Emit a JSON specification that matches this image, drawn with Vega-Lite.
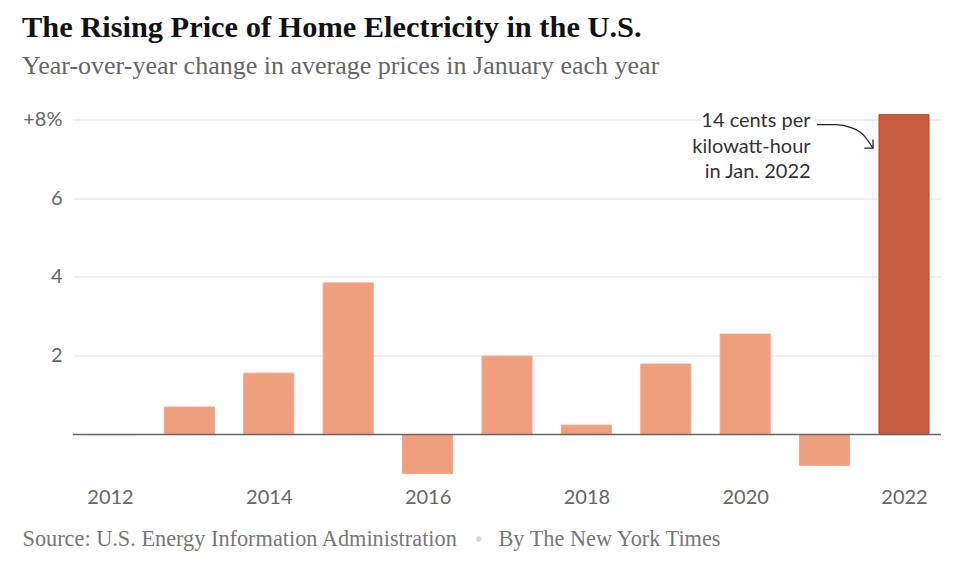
{
  "$schema": "https://vega.github.io/schema/vega-lite/v6.json",
  "width": 868,
  "height": 362.5,
  "autosize": {"type": "none"},
  "padding": {"left": 73, "top": 111.5, "right": 19, "bottom": 102},
  "background": "white",
  "title": {
    "text": "The Rising Price of Home Electricity in the U.S.",
    "subtitle": "Year-over-year change in average prices in January each year",
    "anchor": "start",
    "frame": "group",
    "dx": -51,
    "offset": 30,
    "font": "Liberation Serif",
    "fontSize": 30.4,
    "fontWeight": "bold",
    "color": "#121212",
    "subtitleFont": "Liberation Serif",
    "subtitleFontSize": 26,
    "subtitleColor": "#666666",
    "subtitlePadding": 10
  },
  "datasets": {
    "bars": [
      {"year": 2012, "value": 0},
      {"year": 2013, "value": 0.70},
      {"year": 2014, "value": 1.56},
      {"year": 2015, "value": 3.85},
      {"year": 2016, "value": -0.99},
      {"year": 2017, "value": 1.99},
      {"year": 2018, "value": 0.24},
      {"year": 2019, "value": 1.79},
      {"year": 2020, "value": 2.55},
      {"year": 2021, "value": -0.78},
      {"year": 2022, "value": 8.12}
    ],
    "zero": [
      {"value": 0}
    ],
    "note": [
      {"year": 2021, "value": 7.80, "text": "14 cents per\nkilowatt-hour\nin Jan. 2022"}
    ],
    "arrow": [
      {"year": 2020.904, "value": 7.868},
      {"year": 2021.144, "value": 7.868},
      {"year": 2021.332, "value": 7.792},
      {"year": 2021.484, "value": 7.614},
      {"year": 2021.610, "value": 7.272}
    ],
    "arrowhead": [
      {"year": 2021.610, "value": 7.272}
    ]
  },
  "config": {
    "view": {"stroke": null},
    "scale": {"continuousPadding": 0},
    "axis": {
      "domain": false,
      "ticks": false,
      "labelFont": "Lato",
      "labelFontSize": 20,
      "labelColor": "#666666",
      "titleFont": "Liberation Serif",
      "titleFontSize": 22.3,
      "titleFontWeight": "normal",
      "titleColor": "#777777"
    }
  },
  "resolve": {"scale": {"y": "shared", "x": "shared"}, "axis": {"y": "independent"}},
  "layer": [
    {
      "data": {"name": "bars"},
      "mark": {"type": "bar", "width": 50, "strokeWidth": 1},
      "encoding": {
        "x": {
          "field": "year",
          "type": "quantitative",
          "scale": {"domain": [2011.534, 2022.466], "nice": false, "zero": false, "padding": 0},
          "axis": {
            "values": [2012, 2014, 2016, 2018, 2020, 2022],
            "format": "d",
            "grid": false,
            "labelPadding": 13,
            "title": "Source: U.S. Energy Information Administration",
            "titleX": -51,
            "titleY": 71,
            "titleAlign": "left",
            "titleBaseline": "alphabetic",
            "titleAnchor": "start"
          }
        },
        "y": {
          "field": "value",
          "type": "quantitative",
          "scale": {"domain": [-1, 8.2], "nice": false, "padding": 0},
          "axis": {
            "values": [2, 4, 6, 8],
            "grid": true,
            "gridColor": "#e0e0e0",
            "gridWidth": 1,
            "labelPadding": 11,
            "labelExpr": "datum.value == 8 ? '+8%' : datum.label",
            "title": "By The New York Times",
            "titleAngle": 0,
            "titleX": 425,
            "titleY": 433.5,
            "titleAlign": "left",
            "titleBaseline": "alphabetic",
            "titleAnchor": "start"
          }
        },
        "color": {
          "condition": {"test": "datum.year === 2022", "value": "#C55C40"},
          "value": "#F09F7E"
        },
        "stroke": {
          "condition": {"test": "datum.year === 2022", "value": "#B8421F"},
          "value": "#F2A485"
        }
      }
    },
    {
      "data": {"name": "zero"},
      "mark": {"type": "rule", "color": "#666666", "strokeWidth": 1.5},
      "encoding": {
        "y": {
          "field": "value",
          "type": "quantitative",
          "axis": {
            "orient": "right",
            "labels": false,
            "grid": false,
            "title": "•",
            "titleColor": "#d9d9d9",
            "titleFont": "DejaVu Sans",
            "titleFontSize": 19,
            "titleAngle": 0,
            "titleX": -463,
            "titleY": 427.5,
            "titleAlign": "center",
            "titleBaseline": "middle"
          }
        }
      }
    },
    {
      "data": {"name": "note"},
      "mark": {"type": "text", "align": "right", "baseline": "alphabetic", "dx": -14, "lineBreak": "\n", "lineHeight": 25.5, "font": "Lato", "fontSize": 20, "stroke": "white", "strokeWidth": 8, "strokeJoin": "round", "fill": "white"},
      "encoding": {
        "x": {"field": "year", "type": "quantitative"},
        "y": {"field": "value", "type": "quantitative", "axis": null},
        "text": {"field": "text"}
      }
    },
    {
      "data": {"name": "note"},
      "mark": {"type": "text", "align": "right", "baseline": "alphabetic", "dx": -14, "lineBreak": "\n", "lineHeight": 25.5, "font": "Lato", "fontSize": 20, "color": "#333333"},
      "encoding": {
        "x": {"field": "year", "type": "quantitative"},
        "y": {"field": "value", "type": "quantitative", "axis": null},
        "text": {"field": "text"}
      }
    },
    {
      "data": {"name": "arrow"},
      "mark": {"type": "line", "interpolate": "monotone", "color": "#222222", "strokeWidth": 1.3},
      "encoding": {
        "x": {"field": "year", "type": "quantitative"},
        "y": {"field": "value", "type": "quantitative", "axis": null}
      }
    },
    {
      "data": {"name": "arrowhead"},
      "mark": {"type": "point", "shape": "M-1,-1L0,0L-1,1", "size": 150, "angle": 45, "filled": false, "stroke": "#222222", "strokeWidth": 1.3, "opacity": 1},
      "encoding": {
        "x": {"field": "year", "type": "quantitative"},
        "y": {"field": "value", "type": "quantitative", "axis": null}
      }
    }
  ]
}
